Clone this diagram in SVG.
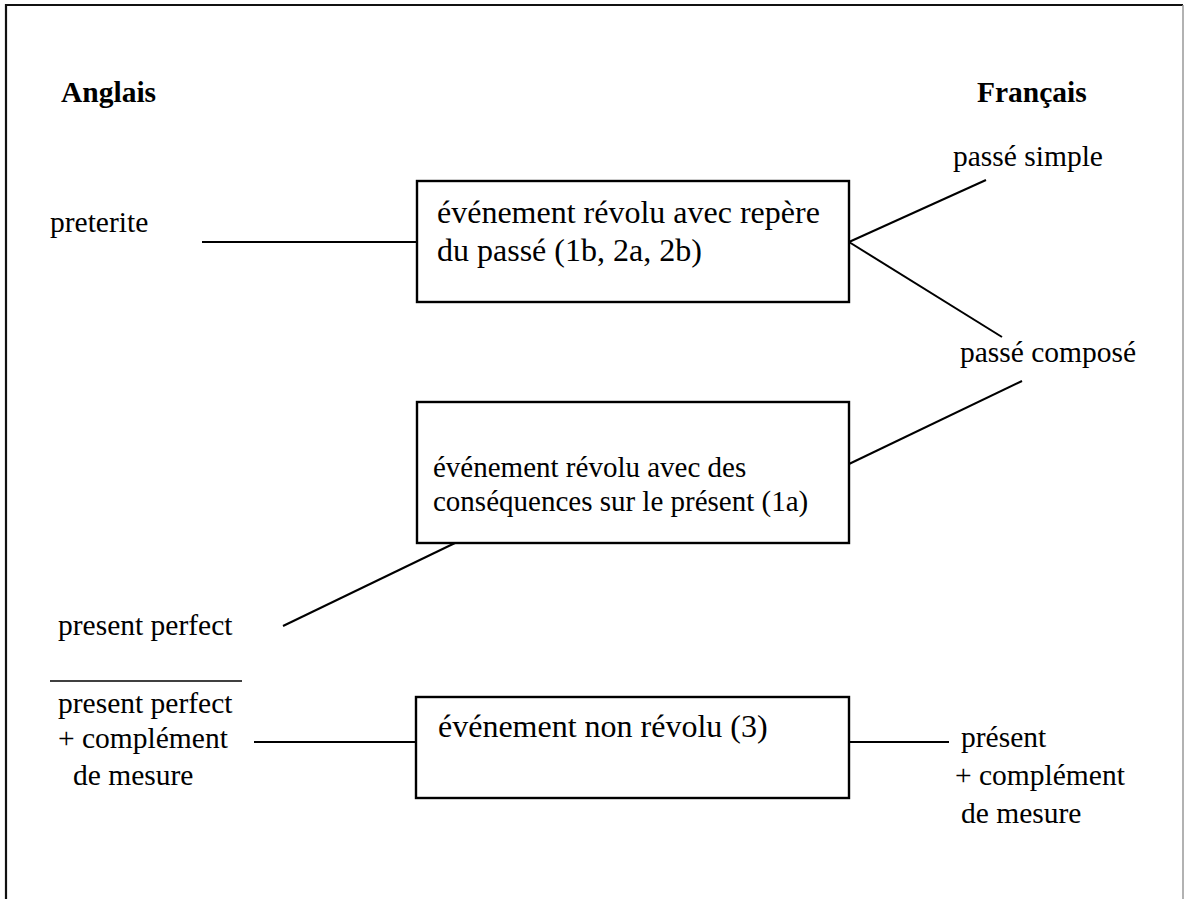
<svg xmlns="http://www.w3.org/2000/svg" width="1186" height="899" viewBox="0 0 1186 899">
<style>
text{font-family:"Liberation Serif","Times New Roman",serif;fill:#000}
.lbl{font-size:29.5px}
.big{font-size:32px}
.mid{font-size:29px}
.hdr{font-size:29.5px;font-weight:bold}
.box{fill:#fff;stroke:#000;stroke-width:2.4}
.con{stroke:#000;stroke-width:2;fill:none}
</style>
<rect x="0" y="0" width="1186" height="899" fill="#fff"/>
<g id="frame">
<path d="M6,899 V5 H1183" fill="none" stroke="#111" stroke-width="2.2"/>
<path d="M1183,5 V899" fill="none" stroke="#999" stroke-width="1.5"/>
</g>
<g id="connectors">
<line class="con" x1="202" y1="242" x2="417" y2="242"/>
<line class="con" x1="849" y1="242" x2="986" y2="180"/>
<line class="con" x1="849" y1="242" x2="1002" y2="337"/>
<line class="con" x1="849" y1="464" x2="1022" y2="381"/>
<line class="con" x1="455" y1="543" x2="283" y2="626"/>
<line class="con" x1="50" y1="681" x2="242" y2="681" style="stroke-width:1.6"/>
<line class="con" x1="254" y1="742" x2="416" y2="742"/>
<line class="con" x1="849" y1="742" x2="949" y2="742"/>
</g>
<g id="hdr-anglais"><text class="hdr" x="61" y="102">Anglais</text></g>
<g id="hdr-francais"><text class="hdr" x="977" y="102">Français</text></g>
<g id="preterite"><text class="lbl" x="50" y="232">preterite</text></g>
<g id="present-perfect"><text class="lbl" x="58" y="635">present perfect</text></g>
<g id="present-perfect-mesure">
<text class="lbl" x="58" y="713">present perfect</text>
<text class="lbl" x="58" y="748">+ complément</text>
<text class="lbl" x="73" y="785">de mesure</text>
</g>
<g id="passe-simple"><text class="lbl" x="953" y="166">passé simple</text></g>
<g id="passe-compose"><text class="lbl" x="960" y="362">passé composé</text></g>
<g id="present-mesure">
<text class="lbl" x="961" y="747">présent</text>
<text class="lbl" x="955" y="785">+ complément</text>
<text class="lbl" x="961" y="823">de mesure</text>
</g>
<g id="box1">
<rect class="box" x="417" y="181" width="432" height="121"/>
<text class="big" x="437" y="223">événement révolu avec repère</text>
<text class="big" x="437" y="261">du passé (1b, 2a, 2b)</text>
</g>
<g id="box2">
<rect class="box" x="417" y="402" width="432" height="141"/>
<text class="mid" x="433" y="477">événement révolu avec des</text>
<text class="mid" x="433" y="511">conséquences sur le présent (1a)</text>
</g>
<g id="box3">
<rect class="box" x="416" y="697" width="433" height="101"/>
<text class="big" x="438" y="737">événement non révolu (3)</text>
</g>
</svg>
